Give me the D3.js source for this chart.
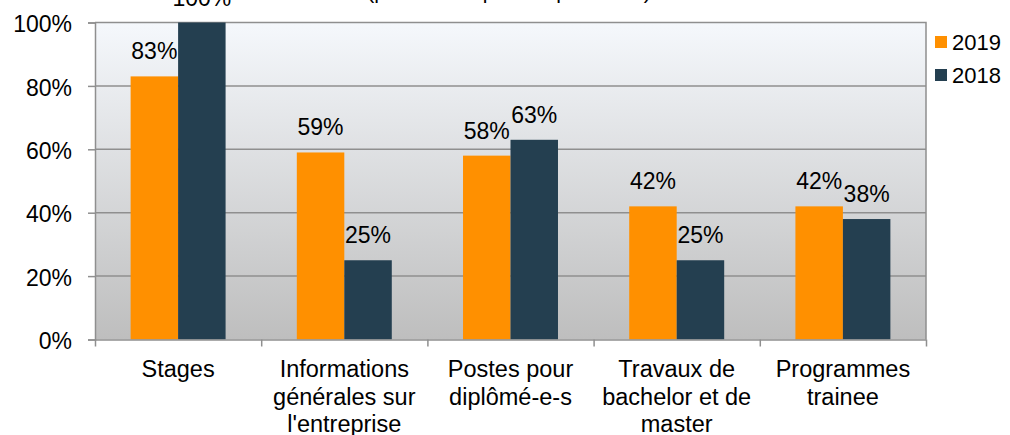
<!DOCTYPE html>
<html>
<head>
<meta charset="utf-8">
<script src="https://cdn.jsdelivr.net/npm/d3@7"></script>
<style>
  body { margin: 0; background: #fff; }
  svg { display: block; font-family: "Liberation Sans", Arial, sans-serif; }
  .tick text { font-size: 23px; fill: #000; }
  .cat-label { font-size: 23.5px; fill: #000; }
  .bar-label { font-size: 23px; fill: #000; }
  .legend-label { font-size: 22px; fill: #000; }
</style>
</head>
<body>
<script>
// categories (multi-line labels), series and ticks
const categories = [
    ["Stages"],
    ["Informations", "générales sur", "l'entreprise"],
    ["Postes pour", "diplômé-e-s"],
    ["Travaux de", "bachelor et de", "master"],
    ["Programmes", "trainee"]
];
const seriesNames = ["2019", "2018"];
const values2019 = [83, 59, 58, 42, 42];
const values2018 = [100, 25, 63, 25, 38];
const seriesColors = ["#ff9000", "#243f50"];
const yTicks = [0, 20, 40, 60, 80, 100];
const titleText = "(plusieurs réponses possibles)";

const width = 1010, height = 435;
const plotLeft = 95, plotRight = 926, plotTop = 22.5, plotBottom = 339.5;

let svg = d3.select("body")
    .append("svg")
    .attr("width", width)
    .attr("height", height);

let x0 = d3.scaleBand()
    .domain(d3.range(categories.length))
    .range([plotLeft, plotRight])
    .padding(0);

let x1 = d3.scaleBand()
    .domain(seriesNames)
    .range([0, x0.bandwidth()])
    .paddingInner(0)
    .paddingOuter(0.75);

let y = d3.scaleLinear()
    .domain([0, 100])
    .range([plotBottom, plotTop]);

// plot background gradient
let defs = svg.append("defs");
let grad = defs.append("linearGradient")
    .attr("id", "bg")
    .attr("x1", 0).attr("y1", 0)
    .attr("x2", 0).attr("y2", 1);
grad.append("stop").attr("offset", "0%").attr("stop-color", "#f5f8fc");
grad.append("stop").attr("offset", "100%").attr("stop-color", "#bebebe");

svg.append("rect")
    .attr("x", plotLeft)
    .attr("y", plotTop)
    .attr("width", plotRight - plotLeft)
    .attr("height", plotBottom - plotTop)
    .attr("fill", "url(#bg)");

// gridlines
svg.append("g")
    .selectAll("line")
    .data(yTicks.filter(d => d > 0 && d < 100))
    .enter()
    .append("line")
    .attr("x1", plotLeft)
    .attr("x2", plotRight)
    .attr("y1", d => y(d))
    .attr("y2", d => y(d))
    .attr("stroke", "#8f8f8f")
    .attr("stroke-width", 1.5);

// plot border (top + right)
svg.append("path")
    .attr("d", `M${plotLeft},${plotTop}H${plotRight}V${plotBottom}`)
    .attr("fill", "none")
    .attr("stroke", "#8f8f8f")
    .attr("stroke-width", 1.5);

// bars
let rows = categories.map((c, i) => ({ i: i, values: [values2019[i], values2018[i]] }));

let groups = svg.append("g")
    .selectAll("g")
    .data(rows)
    .enter()
    .append("g")
    .attr("transform", d => `translate(${x0(d.i)},0)`);

groups.selectAll("rect")
    .data(d => d.values.map((v, k) => ({ key: seriesNames[k], k: k, value: v })))
    .enter()
    .append("rect")
    .attr("x", d => x1(d.key))
    .attr("y", d => y(d.value))
    .attr("width", x1.bandwidth())
    .attr("height", d => y(0) - y(d.value))
    .attr("fill", d => seriesColors[d.k]);

groups.selectAll("text")
    .data(d => d.values.map((v, k) => ({ key: seriesNames[k], k: k, value: v })))
    .enter()
    .append("text")
    .attr("class", "bar-label")
    .attr("text-anchor", "middle")
    .attr("x", d => x1(d.key) + x1.bandwidth() / 2)
    .attr("y", d => y(d.value) - 17)
    .text(d => d.value + "%");

// y axis
let yAxis = svg.append("g")
    .attr("transform", `translate(${plotLeft},0)`)
    .call(d3.axisLeft(y)
        .tickValues(yTicks)
        .tickFormat(d => d + "%")
        .tickSize(7)
        .tickPadding(16));
yAxis.select(".domain").attr("stroke", "#8f8f8f").attr("stroke-width", 1.5);
yAxis.selectAll(".tick line").attr("stroke", "#8f8f8f").attr("stroke-width", 1.5);
yAxis.selectAll(".tick text").attr("dy", "0.4em");

// x axis
let xAxisScale = d3.scaleLinear().domain([0, categories.length]).range([plotLeft, plotRight]);
let xAxis = svg.append("g")
    .attr("transform", `translate(0,${plotBottom})`)
    .call(d3.axisBottom(xAxisScale)
        .tickValues(d3.range(categories.length + 1))
        .tickFormat("")
        .tickSizeInner(7)
        .tickSizeOuter(0));
xAxis.select(".domain").attr("stroke", "#8f8f8f").attr("stroke-width", 1.5);
xAxis.selectAll(".tick line").attr("stroke", "#8f8f8f").attr("stroke-width", 1.5);

// category labels
let catText = svg.append("g")
    .selectAll("text")
    .data(categories)
    .enter()
    .append("text")
    .attr("class", "cat-label")
    .attr("text-anchor", "middle")
    .attr("x", (d, i) => x0(i) + x0.bandwidth() / 2)
    .attr("y", 377);
catText.selectAll("tspan")
    .data(d => d)
    .enter()
    .append("tspan")
    .attr("x", function () { return d3.select(this.parentNode).attr("x"); })
    .attr("dy", (d, i) => i == 0 ? 0 : 27.5)
    .text(d => d);

// title (clipped at top in the original)
svg.append("text")
    .attr("x", 509)
    .attr("y", -1)
    .attr("text-anchor", "middle")
    .attr("font-size", 21)
    .text(titleText);

// legend
let legend = svg.append("g")
    .selectAll("g")
    .data(seriesNames)
    .enter()
    .append("g")
    .attr("transform", (d, i) => `translate(935,${36 + i * 33})`);
legend.append("rect")
    .attr("width", 12)
    .attr("height", 12)
    .attr("fill", (d, i) => seriesColors[i]);
legend.append("text")
    .attr("class", "legend-label")
    .attr("x", 17)
    .attr("y", 14)
    .text(d => d);
</script>
</body>
</html>
